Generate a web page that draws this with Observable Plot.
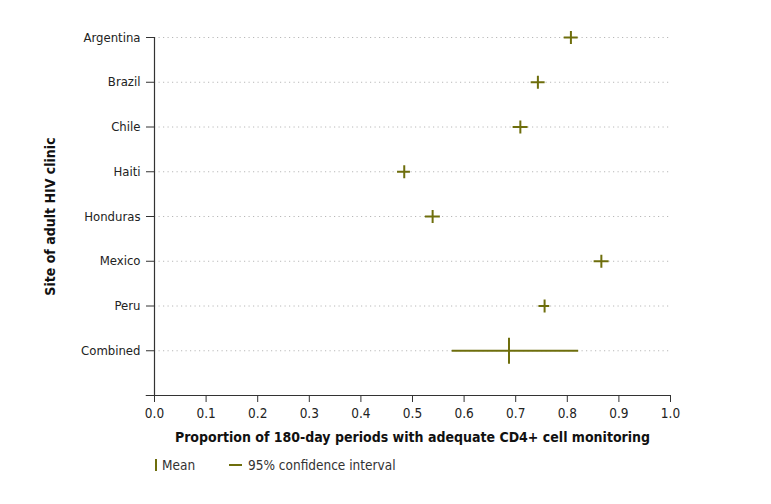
<!DOCTYPE html>
<html>
<head>
<meta charset="utf-8">
<script src="https://cdn.jsdelivr.net/npm/d3@7"></script>
<script src="https://cdn.jsdelivr.net/npm/@observablehq/plot@0.6"></script>
<style>
  body { margin: 0; background: #fff; font-family: "DejaVu Sans Condensed", "Liberation Sans Narrow", sans-serif; }
  .legend { position: relative; height: 30px; font-size: 13.5px; color: #333; }
  .legend .item { position: absolute; top: 5px; display: flex; align-items: center; }
  .legend .mean { width: 2px; height: 12px; background: #6e6e0c; margin-right: 5px; }
  .legend .ci { width: 13px; height: 2px; background: #6e6e0c; margin-right: 6px; }
</style>
</head>
<body>
<div id="chart"></div>
<div class="legend">
  <div class="item" style="left:155px"><span class="mean"></span>Mean</div>
  <div class="item" style="left:229px"><span class="ci"></span>95% confidence interval</div>
</div>
<script>
const sites = ["Argentina", "Brazil", "Chile", "Haiti", "Honduras", "Mexico", "Peru", "Combined"];
const means = [0.807, 0.743, 0.709, 0.484, 0.539, 0.866, 0.756, 0.687];
const ciLow = [0.794, 0.730, 0.695, 0.471, 0.525, 0.852, 0.745, 0.577];
const ciHigh = [0.821, 0.757, 0.724, 0.496, 0.554, 0.881, 0.766, 0.822];
const xTicks = [0, 0.1, 0.2, 0.3, 0.4, 0.5, 0.6, 0.7, 0.8, 0.9, 1.0];

const data = sites.map((s, i) => ({site: s, mean: means[i], lo: ciLow[i], hi: ciHigh[i]}));
const siteRows = data.filter(d => d.site !== "Combined");
const combinedRows = data.filter(d => d.site === "Combined");
const olive = "#6e6e0c";
const font = "DejaVu Sans Condensed, Liberation Sans Narrow, sans-serif";

// vertical-line symbol for the mean marker
const vline = {
  draw(context, size) {
    const h = Math.sqrt(size / Math.PI);
    context.moveTo(0, -h);
    context.lineTo(0, h);
  }
};

const chart = Plot.plot({
  width: 771,
  height: 452,
  marginLeft: 154,
  marginRight: 101,
  marginTop: 37,
  marginBottom: 57,
  style: {fontFamily: font, color: "#222", background: "#fff", overflow: "visible"},
  x: {domain: [0, 1]},
  y: {type: "point", domain: [...sites, ""], padding: 0, round: false},
  marks: [
    Plot.ruleY(sites, {y: d => d, x1: 0, x2: 1, stroke: "#b8b8b8", strokeDasharray: "1.2,3.3", strokeWidth: 1}),
    Plot.ruleY([""], {y: d => d, x1: -0.016, x2: 1, stroke: "#333", strokeWidth: 1.2}),
    Plot.ruleX([0], {x: d => d, y1: () => sites[0], y2: () => "", stroke: "#333", strokeWidth: 1.2}),
    Plot.axisX(xTicks, {tickSize: 7, tickPadding: 6, tickFormat: d3.format(".1f"), fontSize: 13.5, label: null, stroke: "#333"}),
    Plot.axisY(sites, {tickSize: 8, tickPadding: 6, fontSize: 13, label: null, stroke: "#333"}),
    Plot.ruleY(data, {y: "site", x1: "lo", x2: "hi", stroke: olive, strokeWidth: 2}),
    Plot.dot(siteRows, {x: "mean", y: "site", r: 6.5, symbol: vline, fill: "none", stroke: olive, strokeWidth: 2}),
    Plot.dot(combinedRows, {x: "mean", y: "site", r: 13, symbol: vline, fill: "none", stroke: olive, strokeWidth: 2}),
    Plot.text(["Proportion of 180-day periods with adequate CD4+ cell monitoring"], {frameAnchor: "bottom", dy: 46, text: d => d, fontSize: 14, fontWeight: "bold", fill: "#111"}),
    Plot.text(["Site of adult HIV clinic"], {frameAnchor: "left", textAnchor: "middle", dx: -104, rotate: -90, text: d => d, fontSize: 14, fontWeight: "bold", fill: "#111"})
  ]
});
document.getElementById("chart").appendChild(chart);
</script>
</body>
</html>
